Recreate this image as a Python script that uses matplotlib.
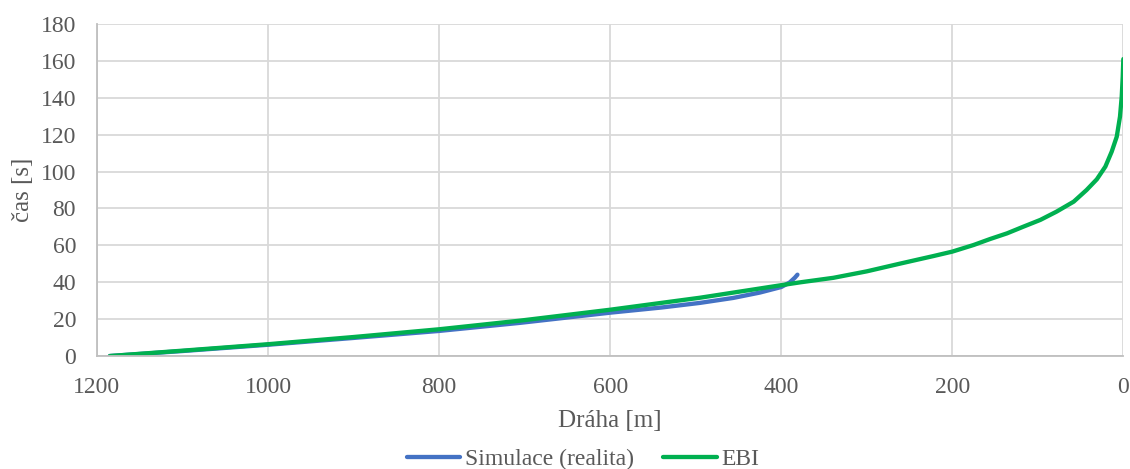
import matplotlib
matplotlib.use("Agg")
import matplotlib.pyplot as plt

plt.rcParams['font.family'] = ['Liberation Serif', 'DejaVu Serif']

# simulace (realita)
sim_x = [1185, 1100, 1000, 900, 800, 705, 600, 540, 495, 456, 425, 400, 390, 384, 381]
sim_t = [0, 2.7, 6.1, 9.8, 13.6, 18.0, 23.5, 26.3, 28.8, 31.5, 34.4, 37.4, 39.9, 42.5, 44.1]

# EBI
ebi_x = [1185, 1100, 1000, 900, 800, 705, 600, 495, 400, 377, 339, 300, 261, 222, 200, 175,
         156, 136, 117, 97, 78, 58, 43, 31, 21, 13.6, 7.7, 3.9, 1.9, 0.7, 0]
ebi_t = [0, 2.9, 6.4, 10.3, 14.5, 19.2, 25.1, 31.6, 38.4, 40.0, 42.4, 45.9, 50.1, 54.2, 56.6, 60.2,
         63.4, 66.5, 70.1, 73.8, 78.3, 83.7, 90.0, 95.8, 102.7, 110.8, 118.9, 129.8, 140.6, 151.5, 161]

xticks = [1200, 1000, 800, 600, 400, 200, 0]
yticks = [0, 20, 40, 60, 80, 100, 120, 140, 160, 180]

fig = plt.figure(figsize=(11.3, 4.69), dpi=100)
ax = fig.add_axes([0.0858, 0.2409, 0.9083, 0.7079])

ax.plot(sim_x, sim_t, color='#4472C4', lw=3.1, label='Simulace (realita)', solid_capstyle='round')
ax.plot(ebi_x, ebi_t, color='#00B050', lw=3.1, label='EBI', solid_capstyle='round')

ax.set_xlim(1200, 0)
ax.set_ylim(0, 180)
ax.set_xticks(xticks)
ax.set_yticks(yticks)
ax.grid(True, color='#d9d9d9', lw=1.3)
ax.set_axisbelow(True)
ax.tick_params(length=0, labelsize=17, labelcolor='#595959', pad=15)
for s in ['top', 'right']:
    ax.spines[s].set_visible(False)
for s in ['left', 'bottom']:
    ax.spines[s].set_color('#bfbfbf')
    ax.spines[s].set_linewidth(1.3)

ax.set_xlabel('Dráha [m]', fontsize=18, color='#595959', labelpad=9)
ax.set_ylabel('čas [s]', fontsize=18, color='#595959', labelpad=5)

leg = fig.legend(loc='center', bbox_to_anchor=(583 / 1130, 1 - 459 / 469), ncol=2, frameon=False,
                 fontsize=17, handlelength=2.25, handletextpad=0.2, columnspacing=1.27,
                 borderpad=0, borderaxespad=0)
for t in leg.get_texts():
    t.set_color('#595959')

fig.savefig('out.png', dpi=100)
